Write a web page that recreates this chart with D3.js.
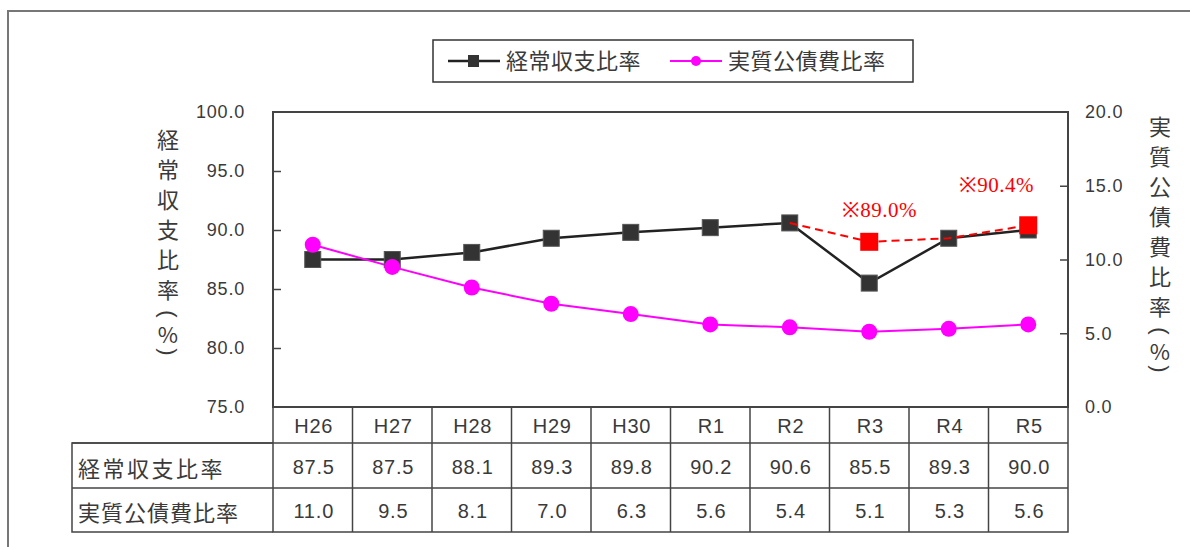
<!DOCTYPE html>
<html>
<head>
<meta charset="utf-8">
<script src="https://cdn.jsdelivr.net/npm/d3@7"></script>
<style>
  body { margin: 0; background: #fff; }
  svg { display: block; }
  text { fill: #3a3a3a; }
</style>
</head>
<body>
<svg width="1190" height="547"></svg>
<script>
const categories = ["H26", "H27", "H28", "H29", "H30", "R1", "R2", "R3", "R4", "R5"];
const keijo = [87.5, 87.5, 88.1, 89.3, 89.8, 90.2, 90.6, 85.5, 89.3, 90.0];
const kosai = [11.0, 9.5, 8.1, 7.0, 6.3, 5.6, 5.4, 5.1, 5.3, 5.6];
// revised figures (red dashed) from R2 onward
const revisedIdx = [6, 7, 8, 9];
const revisedVal = [90.6, 89.0, 89.3, 90.4];
const revisedMark = [7, 9];
const noteShift = [[10, -25], [-32, -33]];
const leftTicks = [75, 80, 85, 90, 95, 100];
const rightTicks = [0, 5, 10, 15, 20];
const names = ["経常収支比率", "実質公債費比率"];

const svg = d3.select("svg");
const jp = "'Noto Sans CJK JP', sans-serif";
const num = "'Liberation Sans', Arial, sans-serif";

const L = 273, R = 1068, T = 112, B = 407;
const tableLeft = 72, rowH = [36, 45, 44];

const x = d3.scaleBand().domain(categories).range([L, R]);
const yL = d3.scaleLinear().domain([75, 100]).range([B, T]);
const yR = d3.scaleLinear().domain([0, 20]).range([B, T]);
const cx = d => x(d) + x.bandwidth() / 2;

// outer frame
svg.append("path").attr("d", "M8,547 V11 H1190")
  .attr("fill", "none").attr("stroke", "#777").attr("stroke-width", 2);

// plot box
svg.append("rect").attr("x", L).attr("y", T).attr("width", R - L).attr("height", B - T)
  .attr("fill", "none").attr("stroke", "#444").attr("stroke-width", 2);

// axes
const axL = svg.append("g").attr("transform", `translate(${L},0)`)
  .call(d3.axisRight(yL).tickValues(leftTicks).tickSize(8).tickFormat(d3.format(".1f")));
axL.selectAll("text").attr("x", -28).attr("text-anchor", "end");
const axR = svg.append("g").attr("transform", `translate(${R},0)`)
  .call(d3.axisLeft(yR).tickValues(rightTicks).tickSize(8).tickFormat(d3.format(".1f")));
axR.selectAll("text").attr("x", 17).attr("text-anchor", "start");
[axL, axR].forEach(a => {
  a.select(".domain").remove();
  a.selectAll("line").attr("stroke", "#444").attr("stroke-width", 1.5);
  a.selectAll("text").attr("font-family", num).attr("font-size", 18)
    .attr("fill", "#3a3a3a").attr("letter-spacing", "0.8px");
});
axL.selectAll(".tick").filter(d => d === 75 || d === 100).select("line").remove();
axR.selectAll(".tick").filter(d => d === 0 || d === 20).select("line").remove();

// vertical axis titles, one character per line
function vtitle(chars, xc, y0) {
  let y = y0;
  chars.forEach((c, i) => {
    const paren = c === "(" || c === ")";
    const t = svg.append("text").attr("x", xc).attr("y", y).attr("text-anchor", "middle")
      .attr("dominant-baseline", "central").attr("font-family", paren ? num : jp)
      .attr("font-size", c === "%" ? 22 : 22).text(c);
    if (paren) t.attr("transform", `rotate(90,${xc},${y})`);
    const next = chars[i + 1];
    if (next === undefined) return;
    y += (next === "(" ) ? 26 : (paren || c === "%") ? 19 : 30;
  });
}
vtitle(["経", "常", "収", "支", "比", "率", "(", "%", ")"], 168, 138);
vtitle(["実", "質", "公", "債", "費", "比", "率", "(", "%", ")"], 1160, 125);

// lines
const lineK = d3.line().x((d, i) => cx(categories[i])).y(d => yL(d));
const lineP = d3.line().x((d, i) => cx(categories[i])).y(d => yR(d));
svg.append("path").datum(keijo).attr("d", lineK)
  .attr("fill", "none").attr("stroke", "#222").attr("stroke-width", 2.5);
svg.append("path").datum(kosai).attr("d", lineP)
  .attr("fill", "none").attr("stroke", "#ff00ff").attr("stroke-width", 2);

svg.selectAll(".mk").data(keijo).enter().append("rect")
  .attr("x", (d, i) => cx(categories[i]) - 8).attr("y", d => yL(d) - 8)
  .attr("width", 16).attr("height", 16).attr("fill", "#333").attr("stroke", "#555");
svg.selectAll(".mp").data(kosai).enter().append("circle")
  .attr("cx", (d, i) => cx(categories[i])).attr("cy", d => yR(d))
  .attr("r", 8).attr("fill", "#ff00ff");

// revised figures
svg.append("path").datum(revisedVal)
  .attr("d", d3.line().x((d, i) => cx(categories[revisedIdx[i]])).y(d => yL(d)))
  .attr("fill", "none").attr("stroke", "#ff0000").attr("stroke-width", 2)
  .attr("stroke-dasharray", "8,5");
revisedMark.forEach((i, k) => {
  const v = revisedVal[revisedIdx.indexOf(i)];
  svg.append("rect").attr("x", cx(categories[i]) - 9).attr("y", yL(v) - 9)
    .attr("width", 18).attr("height", 18).attr("fill", "#ff0000");
  svg.append("text").attr("x", cx(categories[i]) + noteShift[k][0]).attr("y", yL(v) + noteShift[k][1])
    .attr("text-anchor", "middle").attr("font-family", "'Liberation Serif', 'DejaVu Serif', serif")
    .attr("font-size", 21).attr("letter-spacing", "0.5px").style("fill", "#ff0000")
    .text("※" + v.toFixed(1) + "%");
});

// legend
const lg = svg.append("g");
lg.append("rect").attr("x", 433).attr("y", 40).attr("width", 480).attr("height", 42)
  .attr("fill", "#fff").attr("stroke", "#333").attr("stroke-width", 1.5);
lg.append("line").attr("x1", 448).attr("x2", 500).attr("y1", 61).attr("y2", 61)
  .attr("stroke", "#222").attr("stroke-width", 2.5);
lg.append("rect").attr("x", 468).attr("y", 55).attr("width", 11).attr("height", 12).attr("fill", "#333");
lg.append("text").attr("x", 506).attr("y", 69).attr("font-family", jp).attr("font-size", 22)
  .attr("letter-spacing", "0.5px").text(names[0]);
lg.append("line").attr("x1", 670).attr("x2", 722).attr("y1", 61).attr("y2", 61)
  .attr("stroke", "#ff00ff").attr("stroke-width", 2);
lg.append("circle").attr("cx", 696).attr("cy", 61).attr("r", 5).attr("fill", "#ff00ff");
lg.append("text").attr("x", 728).attr("y", 69).attr("font-family", jp).attr("font-size", 22)
  .attr("letter-spacing", "0.5px").text(names[1]);

// data table
const y1 = B, y2 = y1 + rowH[0], y3 = y2 + rowH[1], y4 = y3 + rowH[2];
const tg = svg.append("g").attr("stroke", "#444").attr("stroke-width", 1.5).attr("fill", "none");
tg.append("path").attr("d", `M${L},${y1} V${y4} H${R} V${y1}`);
tg.append("path").attr("d", `M${L},${y2} H${tableLeft} V${y4} H${L}`);
tg.append("line").attr("x1", tableLeft).attr("x2", R).attr("y1", y2).attr("y2", y2);
tg.append("line").attr("x1", tableLeft).attr("x2", R).attr("y1", y3).attr("y2", y3);
tg.selectAll(".vl").data(categories.slice(1)).enter().append("line")
  .attr("x1", d => x(d)).attr("x2", d => x(d)).attr("y1", y1).attr("y2", y4);

const cellText = (vals, yc, fmt) => svg.append("g").selectAll("text").data(vals).enter().append("text")
  .attr("x", (d, i) => cx(categories[i]) + 1).attr("y", yc)
  .attr("text-anchor", "middle").attr("dominant-baseline", "central")
  .attr("font-family", num).attr("font-size", 20).attr("letter-spacing", "0.8px")
  .text(fmt);
cellText(categories, (y1 + y2) / 2 + 1, d => d);
cellText(keijo, (y2 + y3) / 2 + 1, d => d.toFixed(1));
cellText(kosai, (y3 + y4) / 2 + 1, d => d.toFixed(1));
[names[0], names[1]].forEach((n, i) => {
  svg.append("text").attr("x", 78).attr("y", i ? (y3 + y4) / 2 + 1 : (y2 + y3) / 2 + 1)
    .attr("dominant-baseline", "central").attr("font-family", jp).attr("font-size", 22)
    .attr("letter-spacing", i ? "1px" : "2.5px").text(n);
});
</script>
</body>
</html>
